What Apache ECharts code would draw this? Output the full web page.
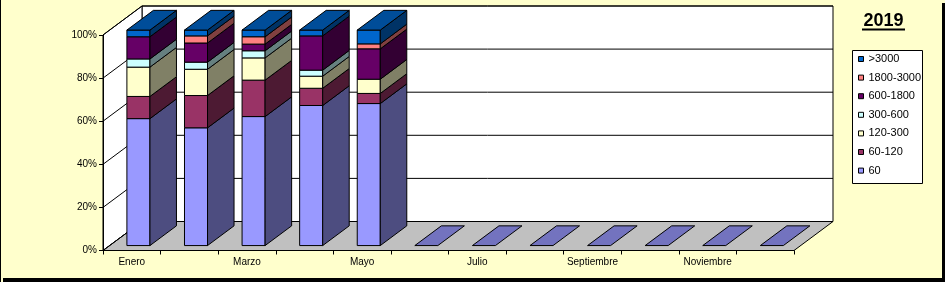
<!DOCTYPE html>
<html><head><meta charset="utf-8">
<script src="https://cdn.jsdelivr.net/npm/echarts@6/dist/echarts.min.js"></script>
<style>html,body{margin:0;padding:0;background:#FFFFCC}#c{width:945px;height:282px}</style>
</head><body><div id="c"></div>
<script>
// ---- data ----
const months = ['Enero','Febrero','Marzo','Abril','Mayo','Junio','Julio','Agosto','Septiembre','Octubre','Noviembre','Diciembre'];
const yTicks = [0, 20, 40, 60, 80, 100];
const seriesNames = ['60', '60-120', '120-300', '300-600', '600-1800', '1800-3000', '>3000'];
const v60        = [58.9, 54.7, 59.8, 65.0, 65.9, 0, 0, 0, 0, 0, 0, 0];
const v60_120    = [10.3, 15.0, 16.9,  8.0,  4.7, 0, 0, 0, 0, 0, 0, 0];
const v120_300   = [13.6, 12.2, 10.3,  5.6,  6.6, 0, 0, 0, 0, 0, 0, 0];
const v300_600   = [ 3.8,  3.3,  3.3,  2.8,  0.0, 0, 0, 0, 0, 0, 0, 0];
const v600_1800  = [10.3,  8.9,  3.1, 15.9, 14.1, 0, 0, 0, 0, 0, 0, 0];
const v1800_3000 = [ 0.0,  3.3,  3.4,  0.0,  2.3, 0, 0, 0, 0, 0, 0, 0];
const vOver3000  = [ 3.1,  2.7,  3.1,  2.7,  6.4, 0, 0, 0, 0, 0, 0, 0];
const title = '2019';

// ---- style ----
const allValues = [v60, v60_120, v120_300, v300_600, v600_1800, v1800_3000, vOver3000];
const colors = ['#9999FF', '#993366', '#FFFFCC', '#CCFFFF', '#660066', '#FF8080', '#0066CC'];
const FONT = '"Liberation Sans", Arial, sans-serif';
const DX = 39, DY = -29;       // depth of the 3D box in px
const F0 = 0.17, F1 = 0.85;    // bar front/back depth fractions
const BARW = 0.4;              // bar width fraction of category

function shade(hex, f) {
  const n = parseInt(hex.slice(1), 16);
  const r = Math.round(((n >> 16) & 255) * f), g = Math.round(((n >> 8) & 255) * f), b = Math.round((n & 255) * f);
  return 'rgb(' + r + ',' + g + ',' + b + ')';
}

// build stacked (100%) data
const totals = months.map((m, i) => allValues.reduce((s, a) => s + a[i], 0));
const stacked = allValues.map(() => []);
months.forEach((m, i) => {
  let base = 0;
  let topIdx = 0;
  allValues.forEach((a, s) => { if (a[i] > 0) topIdx = s; });
  allValues.forEach((a, s) => {
    const pct = totals[i] > 0 ? a[i] / totals[i] * 100 : 0;
    stacked[s].push([i, base, base + pct, s === topIdx ? 1 : 0]);
    base += pct;
  });
});

function makeRender(sIdx) {
  return function (params, api) {
    const cat = api.value(0), b = api.value(1), t = api.value(2), isTop = api.value(3);
    const p0 = api.coord([cat, b]);
    const p1 = api.coord([cat, t]);
    const w = api.size([1, 0])[0] * BARW;
    const xl = p0[0] - w / 2, xr = p0[0] + w / 2;
    const yb = p0[1], yt = p1[1];
    const a = F0, c = F1;
    const col = colors[sIdx];
    const st = { stroke: '#000', lineWidth: 1 };
    const children = [];
    if (t > b) {
      children.push({ type: 'polygon', shape: { points: [[xl + a * DX, yt + a * DY], [xr + a * DX, yt + a * DY], [xr + a * DX, yb + a * DY], [xl + a * DX, yb + a * DY]] },
        style: Object.assign({ fill: col }, st) });
      children.push({ type: 'polygon', shape: { points: [[xr + a * DX, yt + a * DY], [xr + c * DX, yt + c * DY], [xr + c * DX, yb + c * DY], [xr + a * DX, yb + a * DY]] },
        style: Object.assign({ fill: shade(col, 0.5) }, st) });
    }
    if (isTop) {
      children.push({ type: 'polygon', shape: { points: [[xl + a * DX, yt + a * DY], [xl + c * DX, yt + c * DY], [xr + c * DX, yt + c * DY], [xr + a * DX, yt + a * DY]] },
        style: Object.assign({ fill: shade(col, 0.75) }, st) });
    }
    return { type: 'group', children: children };
  };
}

function renderWalls(params, api) {
  const cs = params.coordSys;
  const x0 = cs.x, y0 = cs.y, w = cs.width, h = cs.height;
  const st = { stroke: '#000', lineWidth: 1 };
  return { type: 'group', children: [
    { type: 'polygon', shape: { points: [[x0 + DX, y0 + DY], [x0 + w + DX, y0 + DY], [x0 + w + DX, y0 + h + DY], [x0 + DX, y0 + h + DY]] }, style: Object.assign({ fill: '#FFFFFF' }, st) },
    { type: 'polygon', shape: { points: [[x0, y0], [x0 + DX, y0 + DY], [x0 + DX, y0 + h + DY], [x0, y0 + h]] }, style: Object.assign({ fill: '#FFFFFF' }, st) },
    { type: 'polygon', shape: { points: [[x0, y0 + h], [x0 + w, y0 + h], [x0 + w + DX, y0 + h + DY], [x0 + DX, y0 + h + DY]] }, style: Object.assign({ fill: '#C0C0C0' }, st) }
  ] };
}

function renderGrid(params, api) {
  const cs = params.coordSys;
  const y = api.coord([0, api.value(1)])[1];
  const x0 = cs.x, w = cs.width;
  return { type: 'polyline', shape: { points: [[x0, y], [x0 + DX, y + DY], [x0 + w + DX, y + DY]] },
    style: { stroke: '#000', lineWidth: 1, fill: null } };
}

const series = [
  { type: 'custom', name: 'walls', z: 1, silent: true, renderItem: renderWalls, data: [[0, 0]] },
  { type: 'custom', name: 'grid', z: 1, silent: true, renderItem: renderGrid, data: yTicks.map(v => [0, v]) }
];
seriesNames.forEach((n, s) => {
  series.push({ type: 'custom', name: n, z: 5, renderItem: makeRender(s), data: stacked[s],
    itemStyle: { color: colors[s], borderColor: '#000', borderWidth: 1 },
    encode: { x: 0, y: [1, 2] } });
});

const chart = echarts.init(document.getElementById('c'), null, { renderer: 'canvas' });
chart.setOption({
  animation: false,
  backgroundColor: '#FFFFCC',
  textStyle: { fontFamily: FONT },
  grid: { left: 103, top: 35, width: 691, bottom: 31.5, containLabel: false, outerBoundsMode: 'none' },
  xAxis: {
    type: 'category', data: months, boundaryGap: true, z: 3,
    axisLine: { show: true, lineStyle: { color: '#000', width: 1 } },
    axisTick: { show: true, interval: 0, length: 4, lineStyle: { color: '#000' } },
    axisLabel: { interval: 1, fontSize: 10, color: '#000', margin: 7, fontFamily: FONT },
    splitLine: { show: false }
  },
  yAxis: {
    type: 'value', min: 0, max: 100, interval: 20, z: 3,
    axisLine: { show: true, lineStyle: { color: '#000', width: 1 } },
    axisTick: { show: true, length: 4, lineStyle: { color: '#000' } },
    axisLabel: { formatter: '{value}%', fontSize: 10, color: '#000', margin: 6, fontFamily: FONT },
    splitLine: { show: false }
  },
  legend: {
    orient: 'vertical', left: 858, top: 53, padding: 0, itemGap: 6.6, z: 6,
    data: seriesNames.slice().reverse(),
    icon: 'rect', itemWidth: 5, itemHeight: 5,
    itemStyle: { borderColor: '#000', borderWidth: 1 },
    textStyle: { fontSize: 11, color: '#000', lineHeight: 12, fontFamily: FONT },
    selectedMode: false
  },
  graphic: [
    { type: 'rect', z: 0, shape: { x: 0, y: 0, width: 1, height: 282 }, style: { fill: '#000' } },
    { type: 'rect', z: 0, shape: { x: 942, y: 3, width: 3, height: 279 }, style: { fill: '#000' } },
    { type: 'rect', z: 0, shape: { x: 3, y: 278, width: 942, height: 4 }, style: { fill: '#000' } },
    { type: 'rect', z: 2, shape: { x: 852.5, y: 50.5, width: 70, height: 133 }, style: { fill: '#FFFFFF', stroke: '#000', lineWidth: 1 } },
    { type: 'text', z: 6, x: 883.5, y: 21, style: { text: title, font: 'bold 18px ' + FONT, fill: '#000', textAlign: 'center', textVerticalAlign: 'middle', verticalAlign: 'middle', align: 'center' } },
    { type: 'line', z: 6, shape: { x1: 862, y1: 29.5, x2: 905, y2: 29.5 }, style: { stroke: '#000', lineWidth: 2 } }
  ],
  series: series
});
</script></body></html>
